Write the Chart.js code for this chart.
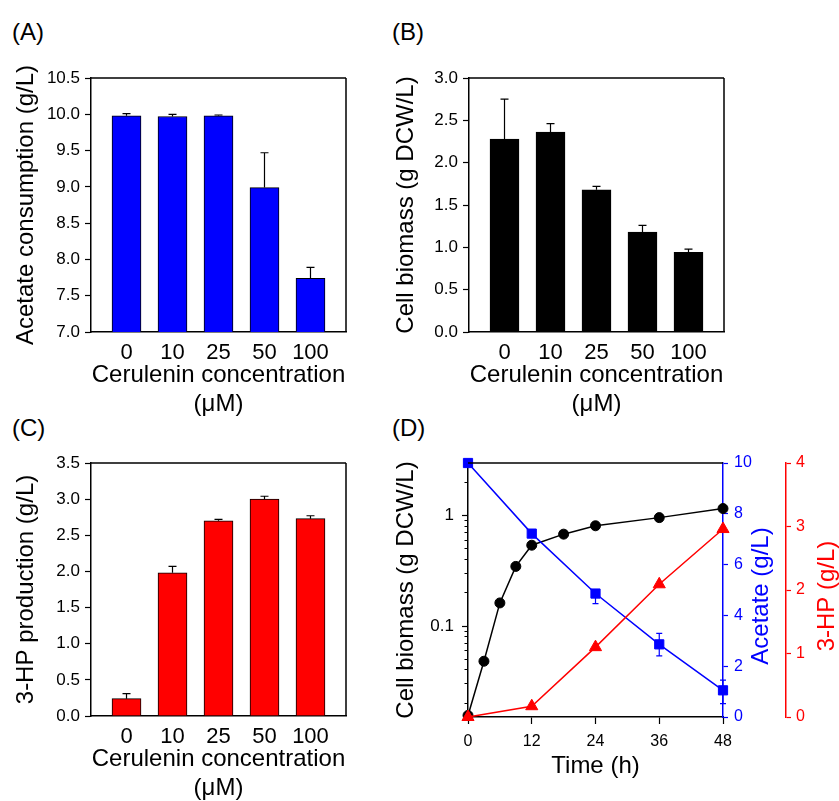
<!DOCTYPE html>
<html>
<head>
<meta charset="utf-8">
<script src="https://cdn.jsdelivr.net/npm/chart.js@4.4.1/dist/chart.umd.min.js"></script>
<style>
  html, body { margin: 0; padding: 0; background: #fff; }
  body { width: 839px; height: 801px; overflow: hidden; position: relative; }
  canvas { position: absolute; left: 0; top: 0; }
  .tag { position: absolute; font: 24px "Liberation Sans", Arial, sans-serif; line-height: 24px; color: #000; }
</style>
</head>
<body>
<div class="tag" style="left:12px; top:20px;">(A)</div>
<div class="tag" style="left:392px; top:20px;">(B)</div>
<div class="tag" style="left:12px; top:416px;">(C)</div>
<div class="tag" style="left:392px; top:416px;">(D)</div>
<canvas id="chartA" width="839" height="840"></canvas>
<canvas id="chartB" width="839" height="840"></canvas>
<canvas id="chartC" width="839" height="840"></canvas>
<canvas id="chartD" width="839" height="840"></canvas>
<script>
/* ================= DATA ================= */

const concLabels = ["0", "10", "25", "50", "100"];

const acetateUse = [9.98, 9.97, 9.98, 8.99, 7.74];
const acetateUseErr = [0.03, 0.03, 0.01, 0.48, 0.15];

const biomassBar = [2.28, 2.36, 1.68, 1.18, 0.94];
const biomassBarErr = [0.47, 0.10, 0.04, 0.08, 0.04];

const hpBar = [0.24, 1.98, 2.70, 3.00, 2.73];
const hpBarErr = [0.07, 0.09, 0.02, 0.04, 0.04];

const timeBiomass = [0, 3, 6, 9, 12, 18, 24, 36, 48];
const biomassTime = [0.0155, 0.048, 0.162, 0.347, 0.54, 0.68, 0.81, 0.96, 1.16];

const timeMain = [0, 12, 24, 36, 48];
const acetateTime = [10.0, 7.22, 4.86, 2.86, 1.05];
const acetateErrUp = [0, 0, 0.1, 0.43, 0.40];
const acetateErrDown = [0, 0, 0.4, 0.45, 0.52];
const hpTime = [0, 0.17, 1.10, 2.09, 2.96];

const logTicks = [0.02, 0.03, 0.04, 0.05, 0.06, 0.07, 0.08, 0.09, 0.1,
  0.2, 0.3, 0.4, 0.5, 0.6, 0.7, 0.8, 0.9, 1, 2, 3];
const logLabels = { 0.1: "0.1", 1: "1" };

/* ================= SETUP ================= */

const FONT = '"Liberation Sans", Arial, sans-serif';
Chart.defaults.font.family = FONT;
Chart.defaults.color = "#000";

const BLUE = "#0000ff";
const RED = "#ff0000";

/* error bars, drawn through the y scale of the dataset */
function errorPlugin(dsIndex, up, down, color, cap) {
  return {
    id: "errorBars",
    afterDatasetsDraw(chart) {
      const ctx = chart.ctx;
      const meta = chart.getDatasetMeta(dsIndex);
      const yScale = chart.scales[meta.yAxisID];
      const pts = chart.data.datasets[dsIndex].data;
      ctx.save();
      ctx.strokeStyle = color;
      ctx.lineWidth = 1.2;
      meta.data.forEach((el, i) => {
        const v = pts[i].y;
        const ends = [];
        if (up && up[i]) ends.push(v + up[i]);
        if (down && down[i]) ends.push(v - down[i]);
        ends.forEach(e => {
          const y0 = yScale.getPixelForValue(v);
          const y1 = yScale.getPixelForValue(e);
          ctx.beginPath();
          ctx.moveTo(el.x, y0);
          ctx.lineTo(el.x, y1);
          ctx.moveTo(el.x - cap / 2, y1);
          ctx.lineTo(el.x + cap / 2, y1);
          ctx.stroke();
        });
      });
      ctx.restore();
    }
  };
}

/* closes the plot box on the sides the axes don't draw */
function framePlugin(sides) {
  return {
    id: "frame",
    afterDatasetsDraw(chart) {
      const { left, right, top, bottom } = chart.chartArea;
      const ctx = chart.ctx;
      ctx.save();
      ctx.strokeStyle = "#000";
      ctx.lineWidth = 1.5;
      ctx.beginPath();
      if (sides.includes("top")) { ctx.moveTo(left, top); ctx.lineTo(right, top); }
      if (sides.includes("right")) { ctx.moveTo(right, top); ctx.lineTo(right, bottom); }
      ctx.stroke();
      ctx.restore();
    }
  };
}

/* ================= BAR PANELS ================= */

function barConfig(values, errs, color, yMin, yMax, yTitle, box) {
  return {
    type: "bar",
    data: {
      datasets: [{
        data: values.map((v, i) => ({ x: i, y: v })),
        backgroundColor: color,
        borderColor: "#000",
        borderWidth: 1,
        barThickness: 29,
      }],
    },
    options: {
      responsive: false,
      animation: false,
      layout: { padding: box.padding },
      plugins: { legend: { display: false }, tooltip: { enabled: false } },
      scales: {
        x: {
          type: "linear",
          min: -0.772,
          max: 4.772,
          offset: false,
          grid: { display: false, drawTicks: false, offset: false },
          border: { display: true, color: "#000", width: 1.5 },
          afterBuildTicks: s => { s.ticks = concLabels.map((_, i) => ({ value: i })); },
          ticks: {
            autoSkip: false,
            maxRotation: 0,
            padding: 7.5,
            font: { size: 22 },
            callback: v => concLabels[v] ?? "",
          },
          title: {
            display: true,
            text: ["Cerulenin concentration", "(\u03bcM)"],
            font: { size: 24 },
            padding: { top: 0, bottom: 3.5 },
          },
          afterFit: s => { s.height = 90; },
        },
        y: {
          min: yMin,
          max: yMax,
          ticks: { stepSize: 0.5, font: { size: 17 }, padding: 5, callback: v => v.toFixed(1) },
          grid: { drawOnChartArea: false, tickLength: 6, tickWidth: 1.2, tickColor: "#000" },
          border: { color: "#000", width: 1.5 },
          title: { display: true, text: yTitle, font: { size: 24 }, padding: { top: 11.6, bottom: 0 } },
          afterFit: s => { s.width = box.yWidth; },
        },
      },
    },
    plugins: [errorPlugin(0, errs, null, "#000", 8), framePlugin(["top", "right"])],
  };
}

new Chart(document.getElementById("chartA"), barConfig(
  acetateUse, acetateUseErr, BLUE, 7, 10.5, "Acetate consumption (g/L)",
  { yWidth: 91, padding: { left: 0, top: 78, right: 493, bottom: 418 } }
));

new Chart(document.getElementById("chartB"), barConfig(
  biomassBar, biomassBarErr, "#000", 0, 3, "Cell biomass (g DCW/L)",
  { yWidth: 89, padding: { left: 380, top: 78, right: 115, bottom: 418 } }
));

new Chart(document.getElementById("chartC"), barConfig(
  hpBar, hpBarErr, RED, 0, 3.5, "3-HP production (g/L)",
  { yWidth: 91, padding: { left: 0, top: 463, right: 493, bottom: 34 } }
));

/* ================= TIME COURSE (D) ================= */

const rightTitles = {
  id: "rightTitles",
  afterDraw(chart) {
    const ctx = chart.ctx;
    const cy = (chart.chartArea.top + chart.chartArea.bottom) / 2 + 6;
    const items = [
      { text: "Acetate (g/L)", x: chart.scales.y2.left + 38, color: BLUE },
      { text: "3-HP (g/L)", x: chart.scales.y3.left + 41, color: RED },
    ];
    items.forEach(t => {
      ctx.save();
      ctx.font = "24px " + FONT;
      ctx.fillStyle = t.color;
      ctx.translate(t.x, cy);
      ctx.rotate(-Math.PI / 2);
      ctx.textAlign = "center";
      ctx.textBaseline = "middle";
      ctx.fillText(t.text, 0, 0);
      ctx.restore();
    });
  }
};

new Chart(document.getElementById("chartD"), {
  type: "line",
  data: {
    datasets: [
      {
        label: "Cell biomass",
        data: timeBiomass.map((t, i) => ({ x: t, y: biomassTime[i] })),
        yAxisID: "y",
        borderColor: "#000",
        backgroundColor: "#000",
        borderWidth: 1.5,
        pointStyle: "circle",
        pointRadius: 5,
        pointBorderWidth: 1,
        order: 3,
        clip: false,
      },
      {
        label: "Acetate",
        data: timeMain.map((t, i) => ({ x: t, y: acetateTime[i] })),
        yAxisID: "y2",
        borderColor: BLUE,
        backgroundColor: BLUE,
        borderWidth: 1.5,
        pointStyle: "rect",
        pointRadius: 6.5,
        pointBorderWidth: 1,
        order: 2,
        clip: false,
      },
      {
        label: "3-HP",
        data: timeMain.map((t, i) => ({ x: t, y: hpTime[i] })),
        yAxisID: "y3",
        borderColor: RED,
        backgroundColor: RED,
        borderWidth: 1.5,
        pointStyle: "triangle",
        pointRadius: 7,
        pointBorderWidth: 1,
        order: 1,
        clip: false,
      },
    ],
  },
  options: {
    responsive: false,
    animation: false,
    layout: { padding: { left: 380, top: 463, right: 0, bottom: 57 } },
    plugins: { legend: { display: false }, tooltip: { enabled: false } },
    scales: {
      x: {
        type: "linear",
        min: 0,
        max: 48,
        ticks: { stepSize: 12, font: { size: 16 }, padding: 7.7 },
        grid: { drawOnChartArea: false, tickLength: 7, tickWidth: 1.2, tickColor: "#000" },
        border: { color: "#000", width: 1.5 },
        title: { display: true, text: "Time (h)", font: { size: 24 }, padding: { top: 0, bottom: 2.2 } },
        afterFit: s => { s.height = 66; },
      },
      y: {
        type: "logarithmic",
        position: "left",
        min: 0.015,
        max: 3,
        afterBuildTicks: s => { s.ticks = logTicks.map(v => ({ value: v })); },
        ticks: { autoSkip: false, font: { size: 17 }, padding: 8, callback: v => logLabels[v] ?? "" },
        grid: {
          drawOnChartArea: false,
          tickLength: 6,
          tickWidth: 1.2,
          tickColor: "#000",
          tickBorderDash: c => (c.tick && logLabels[c.tick.value]) ? [] : [0, 2.5, 10],
        },
        border: { color: "#000", width: 1.5 },
        title: { display: true, text: "Cell biomass (g DCW/L)", font: { size: 24 }, padding: { top: 11.6, bottom: 0 } },
        afterFit: s => { s.width = 88; },
      },
      y2: {
        type: "linear",
        position: "right",
        weight: 1,
        min: 0,
        max: 10,
        ticks: { stepSize: 2, font: { size: 16 }, padding: 6, color: BLUE },
        grid: { drawOnChartArea: false, tickLength: 5, tickWidth: 1.2, tickColor: BLUE },
        border: { color: BLUE, width: 1.5 },
        afterFit: s => { s.width = 63; },
      },
      y3: {
        type: "linear",
        position: "right",
        weight: 2,
        min: 0,
        max: 4,
        ticks: { stepSize: 1, font: { size: 16 }, padding: 5, color: RED },
        grid: { drawOnChartArea: false, tickLength: 5, tickWidth: 1.2, tickColor: RED },
        border: { color: RED, width: 1.5 },
        afterFit: s => { s.width = 53; },
      },
    },
  },
  plugins: [errorPlugin(1, acetateErrUp, acetateErrDown, BLUE, 6), framePlugin(["top"]), rightTitles],
});
</script>
</body>
</html>
